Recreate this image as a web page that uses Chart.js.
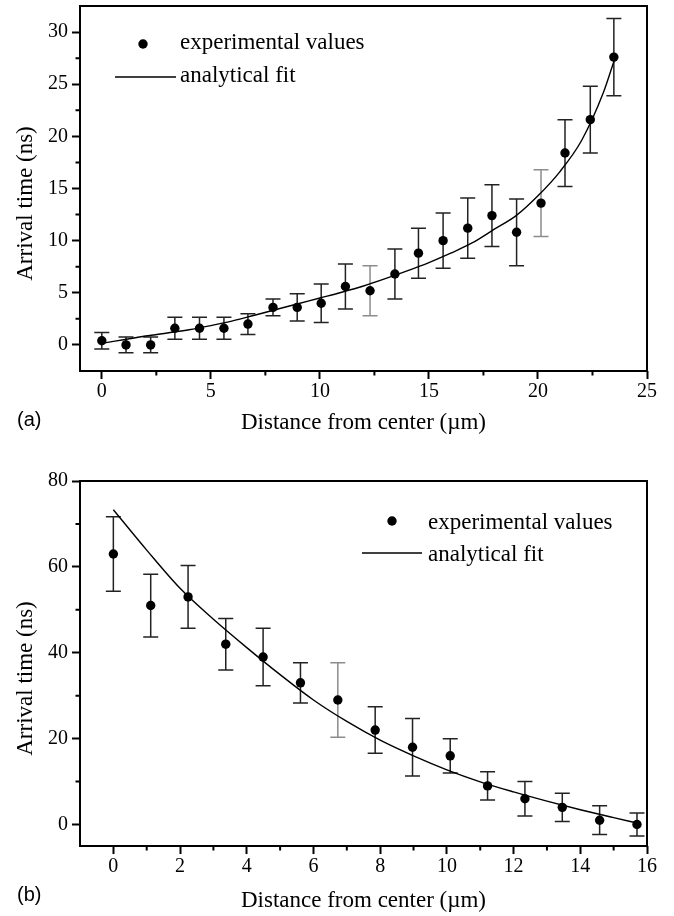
<!DOCTYPE html>
<html>
<head>
<meta charset="utf-8">
<script src="https://cdn.jsdelivr.net/npm/chart.js@4.4.1/dist/chart.umd.min.js"></script>
<style>
  body { margin: 0; background: #fff; }
  .panel { position: absolute; left: 0; }
</style>
</head>
<body>
<div class="panel" style="top:0"><canvas id="chartA" width="674" height="450"></canvas></div>
<div class="panel" style="top:450px"><canvas id="chartB" width="674" height="466"></canvas></div>
<script>
// panel (a): arrival time vs distance, rising
const distA = [0, 1.11, 2.24, 3.35, 4.48, 5.6, 6.7, 7.85, 8.96, 10.06, 11.17, 12.3, 13.44, 14.52, 15.65, 16.78, 17.89, 19.02, 20.14, 21.24, 22.4, 23.48];
const timeA = [0.4, 0, 0, 1.6, 1.6, 1.6, 2.0, 3.6, 3.6, 4.0, 5.6, 5.2, 6.8, 8.8, 10.0, 11.2, 12.4, 10.8, 13.6, 18.4, 21.6, 27.6];
const errA  = [0.8, 0.75, 0.75, 1.05, 1.05, 1.05, 1.0, 0.8, 1.3, 1.85, 2.15, 2.4, 2.4, 2.4, 2.65, 2.9, 2.95, 3.2, 3.2, 3.2, 3.2, 3.7];
const fitAx = [0, 1, 2, 3, 4, 5, 6, 7, 8, 9, 10, 11, 12, 13, 14, 15, 16, 17, 18, 19, 20, 21, 22, 23, 23.5];
const fitAy = [0.15, 0.5, 0.85, 1.15, 1.45, 1.85, 2.3, 2.85, 3.4, 3.95, 4.5, 5.05, 5.65, 6.35, 7.1, 7.9, 8.8, 9.8, 11.1, 12.4, 14.3, 16.6, 19.6, 24.2, 27.3];
const xTicksA = [0, 5, 10, 15, 20, 25];
const yTicksA = [0, 5, 10, 15, 20, 25, 30];

// panel (b): arrival time vs distance, falling
const distB = [0, 1.12, 2.24, 3.37, 4.49, 5.61, 6.73, 7.85, 8.97, 10.1, 11.22, 12.34, 13.46, 14.58, 15.7];
const timeB = [63, 51, 53, 42, 39, 33, 29, 22, 18, 16, 9, 6, 4, 1, 0];
const errB  = [8.7, 7.3, 7.3, 6.0, 6.7, 4.7, 8.7, 5.4, 6.7, 4.0, 3.3, 4.0, 3.3, 3.35, 2.7];
const fitBx = [0, 1, 2, 3, 4, 5, 6, 7, 8, 9, 10, 11, 12, 13, 14, 15, 15.7];
const fitBy = [73.3, 63.9, 55.0, 47.8, 41.2, 34.9, 29.0, 24.0, 19.65, 16.0, 12.75, 9.95, 7.6, 5.45, 3.45, 1.6, 0.35];
const xTicksB = [0, 2, 4, 6, 8, 10, 12, 14, 16];
const yTicksB = [0, 20, 40, 60, 80];

const legendLabels = ['experimental values', 'analytical fit'];
const xTitle = 'Distance from center (\u00b5m)';
const yTitle = 'Arrival time (ns)';

Chart.defaults.color = '#000';
Chart.defaults.font.family = '"Liberation Serif", serif';

const SERIF = '"Liberation Serif", serif';

// error bars, frame, minor ticks, y title, legend and panel tag
const figurePlugin = {
  id: 'figure',
  beforeDatasetsDraw(chart, args, opts) {
    const { ctx, scales: { x, y } } = chart;
    const pts = chart.data.datasets[0].data;
    ctx.save();
    ctx.lineWidth = 1.5;
    pts.forEach((p, i) => {
      const px = x.getPixelForValue(p.x);
      const top = y.getPixelForValue(p.y + opts.err[i]);
      const bot = y.getPixelForValue(p.y - opts.err[i]);
      ctx.strokeStyle = opts.light.includes(i) ? '#8c8c8c' : '#222';
      ctx.beginPath();
      ctx.moveTo(px, top); ctx.lineTo(px, bot);
      ctx.moveTo(px - 7.5, top); ctx.lineTo(px + 7.5, top);
      ctx.moveTo(px - 7.5, bot); ctx.lineTo(px + 7.5, bot);
      ctx.stroke();
    });
    ctx.restore();
  },
  afterDraw(chart, args, opts) {
    const { ctx, chartArea: a, scales: { x, y } } = chart;
    ctx.save();
    ctx.strokeStyle = '#000';
    ctx.lineWidth = 2;
    ctx.strokeRect(a.left, a.top, a.right - a.left, a.bottom - a.top);

    // minor ticks halfway between the major ones
    ctx.beginPath();
    x.ticks.forEach(t => {
      const m = t.value + opts.xStep / 2;
      if (m < x.max) {
        const px = x.getPixelForValue(m);
        ctx.moveTo(px, a.bottom); ctx.lineTo(px, a.bottom + 4.5);
      }
    });
    y.ticks.forEach(t => {
      const m = t.value + opts.yStep / 2;
      if (m < y.max) {
        const py = y.getPixelForValue(m);
        ctx.moveTo(a.left, py); ctx.lineTo(a.left - 4.5, py);
      }
    });
    ctx.stroke();

    // y title sits a bit below the middle of the axis
    ctx.fillStyle = '#000';
    ctx.font = '23px ' + SERIF;
    ctx.save();
    ctx.translate(26, (a.top + a.bottom) / 2 + 15);
    ctx.rotate(-Math.PI / 2);
    ctx.textAlign = 'center';
    ctx.textBaseline = 'middle';
    ctx.fillText(yTitle, 0, 0);
    ctx.restore();

    // legend
    const lg = opts.legend;
    ctx.beginPath();
    ctx.arc(lg.dotX, lg.dotY, 4.7, 0, Math.PI * 2);
    ctx.fill();
    ctx.lineWidth = 1.4;
    ctx.beginPath();
    ctx.moveTo(lg.lineX1, lg.lineY); ctx.lineTo(lg.lineX2, lg.lineY);
    ctx.stroke();
    ctx.textBaseline = 'alphabetic';
    ctx.fillText(chart.data.datasets[0].label, lg.textX, lg.row1);
    ctx.fillText(chart.data.datasets[1].label, lg.textX, lg.row2);

    // (a) / (b)
    ctx.font = '20px "Liberation Sans", sans-serif';
    ctx.textBaseline = 'middle';
    ctx.fillText(opts.tag, 17, opts.tagY);
    ctx.restore();
  }
};

function makeChart(id, xs, ys, fx, fy, cfg) {
  const fixW = s => { s.width = 80; s.paddingTop = 0; s.paddingBottom = 0; };
  const fixH = s => { s.height = cfg.xBox; s.paddingLeft = 0; s.paddingRight = 0; };
  const grid = { drawOnChartArea: false, drawTicks: true, tickLength: 8, tickWidth: 2, tickColor: '#000' };
  return new Chart(document.getElementById(id), {
    type: 'scatter',
    data: {
      datasets: [{
        label: legendLabels[0],
        data: xs.map((v, i) => ({ x: v, y: ys[i] })),
        pointRadius: 4.7,
        pointBackgroundColor: '#000',
        pointBorderWidth: 0,
        showLine: false
      }, {
        label: legendLabels[1],
        data: fx.map((v, i) => ({ x: v, y: fy[i] })),
        showLine: true,
        borderColor: '#000',
        borderWidth: 1.4,
        pointRadius: 0,
        cubicInterpolationMode: 'monotone'
      }]
    },
    options: {
      responsive: false,
      animation: false,
      events: [],
      layout: { padding: { left: 0, top: cfg.top, right: 27, bottom: 0 } },
      scales: {
        x: {
          type: 'linear', position: 'bottom',
          min: cfg.xMin, max: cfg.xMax,
          afterFit: fixH,
          afterBuildTicks: s => { s.ticks = cfg.xTicks.map(v => ({ value: v })); },
          border: { display: false },
          grid: grid,
          ticks: { padding: 1, font: { size: 20, family: SERIF } },
          title: { display: true, text: xTitle, font: { size: 23, family: SERIF }, padding: { top: 0, bottom: cfg.titlePad } }
        },
        y: {
          type: 'linear', position: 'left',
          min: cfg.yMin, max: cfg.yMax,
          afterFit: fixW,
          afterBuildTicks: s => { s.ticks = cfg.yTicks.map(v => ({ value: v })); },
          border: { display: false },
          grid: grid,
          ticks: { padding: 4, font: { size: 20, family: SERIF } },
          title: { display: false, text: yTitle }
        }
      },
      plugins: {
        legend: { display: false },
        tooltip: { enabled: false },
        figure: {
          err: cfg.err, light: cfg.light,
          xStep: cfg.xStep, yStep: cfg.yStep,
          legend: cfg.legend, tag: cfg.tag, tagY: cfg.tagY
        }
      }
    },
    plugins: [figurePlugin]
  });
}

makeChart('chartA', distA, timeA, fitAx, fitAy, {
  top: 6, xBox: 79, titlePad: 13,
  xMin: -1, xMax: 25, xStep: 5, xTicks: xTicksA,
  yMin: -2.5, yMax: 32.5, yStep: 5, yTicks: yTicksA,
  err: errA, light: [11, 18],
  legend: { dotX: 143, dotY: 44, lineX1: 115, lineX2: 176, lineY: 77, textX: 180, row1: 49, row2: 82 },
  tag: '(a)', tagY: 420
});

makeChart('chartB', distB, timeB, fitBx, fitBy, {
  top: 31, xBox: 70, titlePad: 1,
  xMin: -1, xMax: 16, xStep: 2, xTicks: xTicksB,
  yMin: -5, yMax: 80, yStep: 20, yTicks: yTicksB,
  err: errB, light: [6],
  legend: { dotX: 392, dotY: 71, lineX1: 362, lineX2: 422, lineY: 103, textX: 428, row1: 79, row2: 111 },
  tag: '(b)', tagY: 445
});
</script>
</body>
</html>
